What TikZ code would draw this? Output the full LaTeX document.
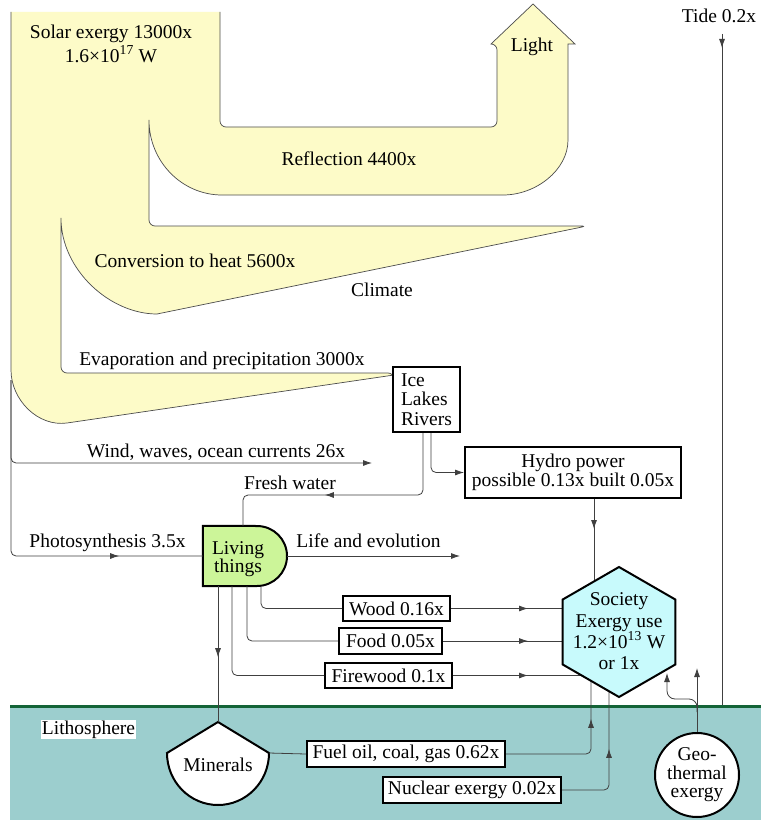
\documentclass[tikz,border=0pt]{standalone}
\usepackage{fontspec}
\setmainfont{Liberation Serif}
\usetikzlibrary{shapes.geometric,arrows.meta,decorations.markings}

\definecolor{sunflow}{RGB}{253,251,200}
\definecolor{livegreen}{RGB}{204,245,153}
\definecolor{socblue}{RGB}{200,250,252}
\definecolor{rockteal}{RGB}{156,206,206}
\definecolor{groundline}{RGB}{20,100,55}

\begin{document}
\begin{tikzpicture}[x=1pt, y=-1pt,
    font=\fontsize{19.5}{20}\selectfont,
    endtip/.style={-{Latex[length=9pt,width=6pt]}},
    flowline/.style={line width=0.8pt, black!75, rounded corners=5pt},
    midarrow/.style={postaction={decorate, decoration={markings, mark=at position #1 with {\arrow{Latex[length=9pt,width=6pt]}}}}},
    exbox/.style={draw, line width=2pt, fill=white, inner sep=0pt},
    lbl/.style={inner sep=0pt, anchor=base}]
        \useasboundingbox (0,0) rectangle (761,821);
        \fill[white] (0,0) rectangle (761,821);
        \fill[rockteal] (10,706) rectangle (761,820);
        \draw[groundline, line width=3pt] (10,706) -- (761,706);
        \filldraw[fill=sunflow, draw=black!70, line width=0.7pt]
            (220,12) -- (220,120) [rounded corners=6pt] -- (220,127) -- (497,127) -- (497,44) [sharp corners]
            -- (491,44) -- (533,4) -- (575,44) -- (568,44) -- (568,140)
            .. controls (568,170) and (536,195) .. (503,195) -- (222,195)
            .. controls (181.7,195) and (149,161.4) .. (149,120) -- (149,219) [rounded corners=6pt] -- (149,226) -- (587,226) [sharp corners]
            -- (157,314) .. controls (110,314) and (61,270) .. (61,218) -- (61,366) [rounded corners=6pt] -- (61,373) -- (394,373) [sharp corners]
            -- (394,375) -- (67,423) .. controls (38,427) and (11,400) .. (11,370) -- (11,12);
        \node[align=center, inner sep=0pt, font=\fontsize{19.5}{24}\selectfont] (solar) at (111,43.5) {Solar exergy 13000x\\1.6×10\textsuperscript{17} W};
        \node[lbl] (light) at (532,52) {Light};
        \node[lbl] (reflect) at (349,166) {Reflection 4400x};
        \node[lbl] (convert) at (195,267) {Conversion to heat 5600x};
        \node[lbl] (climate) at (382,296) {Climate};
        \node[lbl] (evap) at (222,365) {Evaporation and precipitation 3000x};
        \node[lbl] (wind) at (216,457) {Wind, waves, ocean currents 26x};
        \node[lbl] (fresh) at (290,489) {Fresh water};
        \node[lbl] (photo) at (107.5,547) {Photosynthesis 3.5x};
        \node[lbl] (life) at (368.5,547) {Life and evolution};
        \node[lbl] (tide) at (719,23) {Tide 0.2x};
        \node[fill=white, inner sep=1pt] (litho) at (88.5,729.5) {Lithosphere};

        \node[exbox, minimum width=67pt, minimum height=65pt, align=left, font=\fontsize{19.5}{19.5}\selectfont] (ice) at (426.5,399.5) {Ice\\Lakes\\Rivers};
        \node[exbox, minimum width=216pt, minimum height=51pt, align=center, font=\fontsize{19.5}{19.5}\selectfont] (hydro) at (573,472.5) {Hydro power\\possible 0.13x built 0.05x};
        \node[exbox, minimum width=107pt, minimum height=25pt] (wood) at (396.5,608.5) {Wood 0.16x};
        \node[exbox, minimum width=103pt, minimum height=26pt] (food) at (390.5,641) {Food 0.05x};
        \node[exbox, minimum width=127pt, minimum height=25pt] (firewood) at (388.5,675.5) {Firewood 0.1x};
        \node[exbox, minimum width=198pt, minimum height=26pt] (fuel) at (406,754) {Fuel oil, coal, gas 0.62x};
        \node[exbox, minimum width=178pt, minimum height=26pt] (nuclear) at (472,790) {Nuclear exergy 0.02x};
        \node[exbox, circle, minimum size=84pt, align=center, font=\fontsize{19.5}{18.5}\selectfont] (geo) at (697,775) {Geo-\\thermal\\exergy};

        \node[minimum width=84pt, minimum height=60pt, inner sep=0pt] (live) at (245,556) {};
        \filldraw[fill=livegreen, line width=2pt] (live.north west) -- (257,526) .. controls (273.6,526) and (287,539.4) .. (287,556)
            .. controls (287,572.6) and (273.6,586) .. (257,586) -- (live.south west) -- cycle;
        \node[align=center, inner sep=0pt, font=\fontsize{19.5}{18}\selectfont] (livetext) at (238,559.5) {Living\\things};
        \filldraw[fill=white, line width=2pt] (218,722) -- (269,753) .. controls (269,781.7) and (246.2,805) .. (218,805)
            .. controls (189.8,805) and (167,781.7) .. (167,753) -- cycle;
        \node[inner sep=0pt] (minerals) at (218,764.5) {Minerals};
        \coordinate (mintop) at (218,722);
        \coordinate (minright) at (269,753);

        \coordinate (socc) at (619,632);
        \coordinate (src) at (11,380);
        \coordinate (windend) at (372,463);
        \coordinate (lifeend) at (460,556);
        \coordinate (fwturn) at (243,495);
        \coordinate (hydsoc) at ([xshift=21pt]hydro.south);
        \coordinate (tidetop) at (722,34);
        \coordinate (tidebot) at (722,705);
        \coordinate (geoup) at (697,668);
        \coordinate (geobr) at (697,712);
        \coordinate (geobend) at (667,699);
        \coordinate (geoin) at (667,673);

        \draw[flowline, endtip] (src) |- (windend);
        \draw[flowline, midarrow=282pt] (src) |- (live.west);
        \draw[flowline, endtip] (live.east) -- (lifeend);
        \draw[flowline, midarrow=158pt] ([xshift=-3.5pt]ice.south) |- (fwturn) -- ([xshift=-2pt]live.north);
        \draw[flowline, endtip] ([xshift=4.5pt]ice.south) |- (hydro.west);
        \draw[flowline, midarrow=30pt] (hydsoc) -- (hydsoc |- socc);
        \draw[flowline] ([xshift=16pt]live.south) |- (wood.west);
        \draw[flowline] ([xshift=2pt]live.south) |- (food.west);
        \draw[flowline] ([xshift=-13pt]live.south) |- (firewood.west);
        \draw[flowline, midarrow=71pt] ([xshift=-27pt]live.south) -- (mintop);
        \draw[flowline, midarrow=77pt] (wood.east) -- (wood.east -| socc);
        \draw[flowline, midarrow=85pt] (food.east) -- (food.east -| socc);
        \draw[flowline, midarrow=75pt] (firewood.east) -- (firewood.east -| socc);
        \draw[flowline] (minright) -- (fuel.west);
        \draw[flowline, midarrow=118pt] (fuel.east) -| ([xshift=-28pt]socc);
        \draw[flowline, midarrow=86pt] (nuclear.east) -| ([xshift=-10pt]socc);
        \draw[flowline, endtip] (geo.north) -- (geoup);
        \draw[flowline, endtip, rounded corners=8pt] (geobr) |- (geobend) -- (geoin);
        \draw[flowline, midarrow=14pt] (tidetop) -- (tidebot);

        \node[draw, line width=2pt, fill=socblue, regular polygon, regular polygon sides=6, minimum size=130pt, inner sep=0pt, shape border rotate=30] (soc) at (socc) {};
        \node[align=center, inner sep=0pt, font=\fontsize{19.5}{21.3}\selectfont] (soctext) at (619,631.5) {Society\\Exergy use\\1.2×10\textsuperscript{13} W\\or 1x};
      \end{tikzpicture}
\end{document}
